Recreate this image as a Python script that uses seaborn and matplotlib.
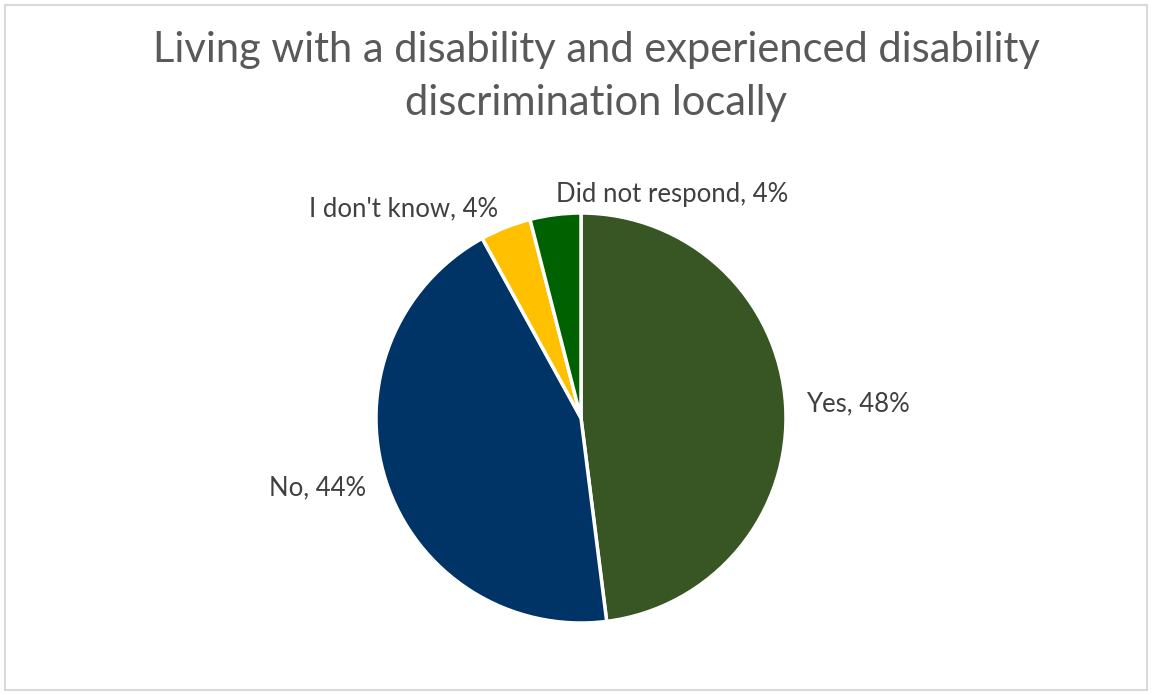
import matplotlib
matplotlib.use('Agg')
import matplotlib.pyplot as plt
import seaborn as sns
from matplotlib.patches import Rectangle

# Data
categories = ['Yes', 'No', "I don't know", 'Did not respond']
shares = [48, 44, 4, 4]
slice_colors = ['#375623', '#003366', '#FFC000', '#006100']

sns.set_theme(style='white')
plt.rcParams['font.family'] = ['Lato', 'DejaVu Sans']

fig = plt.figure(figsize=(11.53, 6.95), dpi=100)

# light grey frame around the chart area
fig.patches.append(Rectangle((5 / 1153, 5 / 695), 1142 / 1153, 685 / 695,
                             transform=fig.transFigure, fill=False,
                             edgecolor='#D9D9D9', linewidth=1.5))

fig.text(0.517, 0.89, 'Living with a disability and experienced disability\ndiscrimination locally',
         ha='center', va='center', fontsize=30, color='#595959', linespacing=1.48)

cx, cy, r = 581, 418, 205
ax = fig.add_axes([(cx - r) / 1153, (695 - cy - r) / 695, 2 * r / 1153, 2 * r / 695])

labels = [f'{c}, {v}%' for c, v in zip(categories, shares)]
wedges, texts = ax.pie(shares, labels=labels, colors=sns.color_palette(slice_colors),
                       startangle=90, counterclock=False, labeldistance=1.1,
                       wedgeprops=dict(edgecolor='white', linewidth=2.5),
                       textprops=dict(fontsize=18.5, color='#404040'))
# Excel puts the small top-right label to the right of the top
texts[3].set_horizontalalignment('left')
texts[3].set_x(-0.12)
ax.set_xlim(-1, 1)
ax.set_ylim(-1, 1)
ax.set_aspect('equal')
ax.axis('off')

fig.savefig('out.png', dpi=100)
